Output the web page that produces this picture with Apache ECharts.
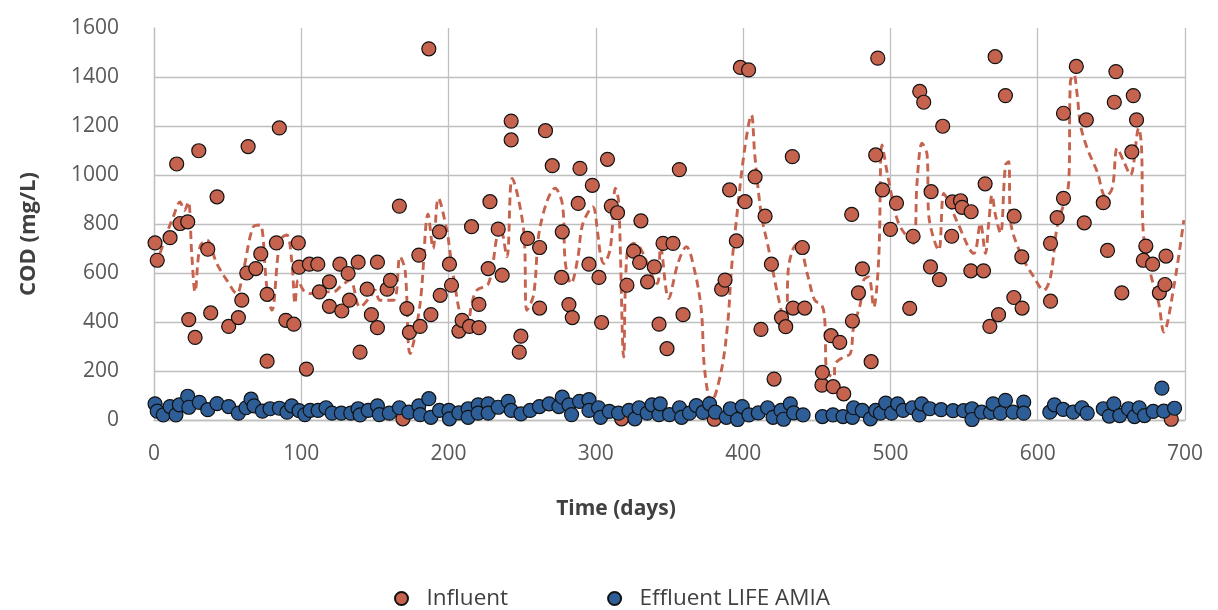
<!DOCTYPE html>
<html><head><meta charset="utf-8">
<script src="https://cdn.jsdelivr.net/npm/echarts@6/dist/echarts.min.js"></script>
<style>html,body{margin:0;padding:0;background:#fff}#c{width:1218px;height:610px}</style>
</head><body><div id="c"></div>
<script>
// Influent COD (day, mg/L)
const influentDays = [0.7,2.2,10.9,15.4,17.7,22.9,23.6,27.9,30.4,36.5,38.5,42.8,50.7,57.3,59.6,63.0,63.9,69.1,72.5,76.8,76.8,83.1,85.1,89.5,94.9,98.0,98.5,103.5,105.5,111.2,112.3,119.1,119.1,126.2,127.5,131.8,132.7,138.6,139.9,144.7,147.6,151.7,151.7,158.3,160.5,166.6,169.0,171.7,173.4,179.8,180.7,186.6,188.0,193.8,194.3,200.6,202.0,207.0,209.2,214.2,215.6,220.6,220.6,226.9,228.1,233.7,236.4,242.5,242.5,248.0,249.1,253.6,261.8,261.8,265.8,270.4,276.7,277.2,281.7,284.0,288.0,289.2,295.3,297.6,302.1,303.9,307.9,310.5,314.7,317.5,321.1,325.6,329.7,330.6,335.1,339.7,342.9,345.6,348.3,352.4,356.7,359.2,380.4,385.4,387.7,390.8,395.4,398.1,401.3,403.7,408.1,412.1,414.9,419.2,421.0,426.0,428.9,433.4,433.9,440.2,441.8,453.5,453.8,459.7,461.1,465.6,468.3,473.7,474.2,478.3,481.0,486.9,490.0,491.4,494.6,500.0,504.1,513.1,515.4,519.9,522.6,527.2,527.6,533.3,535.5,541.6,542.1,547.6,548.7,554.6,554.8,563.2,564.3,567.5,571.1,573.4,578.1,583.8,584.0,589.2,589.4,608.7,608.7,613.2,617.5,617.5,626.2,631.6,633.0,644.5,647.4,652.0,653.1,657.1,663.9,664.9,667.1,671.7,673.4,678.0,682.6,686.4,687.1,690.7];
const influentCOD = [723,652,744,1045,802,809,410,337,1099,697,437,911,382,418,489,600,1116,618,678,513,240,723,1192,407,391,723,624,208,636,636,523,564,464,636,445,598,489,644,277,534,430,644,377,534,570,873,5,455,358,673,382,1515,430,768,509,636,550,363,407,382,789,472,377,618,891,779,591,1220,1143,277,342,741,704,457,1181,1038,582,768,471,418,884,1027,636,958,582,398,1064,873,846,5,550,689,643,813,564,625,391,721,291,721,1022,430,3,534,571,939,731,1439,891,1429,992,370,832,636,167,418,381,1075,457,704,457,142,194,344,136,317,107,839,404,519,617,238,1082,1477,939,778,885,456,750,1341,1297,625,932,573,1199,750,890,895,868,609,850,609,964,382,1483,430,1324,500,832,666,457,485,721,826,1252,905,1443,805,1225,887,692,1297,1422,519,1094,1324,1225,652,710,636,519,553,669,3];

// Effluent LIFE AMIA COD (day, mg/L)
const effluentDays = [0.7,2.2,6.3,10.9,14.9,17.2,22.9,23.6,30.8,36.5,42.8,50.7,57.3,62.5,65.9,67.9,73.6,78.8,85.1,90.3,93.5,98.5,102.4,106.0,111.4,116.8,120.9,127.2,133.6,138.6,139.9,145.4,151.7,153.0,159.8,166.6,173.0,179.8,180.7,186.6,188.0,193.8,200.2,200.6,207.0,213.3,213.3,220.1,220.1,226.9,226.9,233.7,240.5,242.5,249.1,255.4,261.7,268.3,274.9,277.2,281.7,283.5,288.9,295.3,295.3,301.8,303.2,309.1,315.4,322.5,326.5,329.3,334.9,338.1,342.8,343.7,350.0,356.8,358.2,363.6,368.2,372.7,377.2,381.1,388.6,391.3,396.2,399.4,403.9,410.3,416.6,420.3,425.7,427.5,432.0,434.3,440.7,453.8,461.0,467.8,474.2,475.0,480.9,486.4,490.0,493.2,496.8,500.8,504.9,508.6,514.9,519.5,521.2,526.7,534.4,542.5,549.7,555.4,555.4,561.9,567.9,569.7,574.7,578.1,583.3,590.5,590.5,608.2,611.4,617.3,624.1,630.0,633.6,644.5,648.6,651.7,655.7,661.6,665.7,668.9,672.5,678.4,684.3,685.6,692.9];
const effluentCOD = [66,36,21,55,21,62,97,52,72,42,67,55,28,50,85,58,36,46,48,32,58,38,22,39,39,50,28,28,28,46,21,39,58,22,28,50,32,58,22,87,11,39,39,5,29,46,11,62,28,66,28,52,76,39,25,39,55,66,55,93,62,22,76,83,39,50,11,35,28,39,5,50,28,62,22,66,22,50,11,28,59,31,66,32,11,46,2,55,21,29,50,11,39,3,66,29,21,14,21,14,11,50,39,5,39,28,69,28,66,39,50,21,66,46,42,38,38,46,2,32,31,66,28,80,32,73,28,32,62,43,32,50,28,46,16,66,18,46,14,50,18,35,130,36,48];

// Dashed trend (moving average of influent)
const trendDays = [4.1,8.6,13.1,17.7,20.6,23.3,25.6,27.9,31.2,35.8,42.6,49.4,56.2,60.7,67.5,72.0,76.6,80.0,85.6,90.1,93.5,95.8,97.8,101.4,106.0,112.8,121.8,127.5,133.1,139.9,146.7,150.1,153.5,162.6,167.1,170.5,173.9,180.7,186.1,189.5,193.1,198.8,201.1,204.5,207.9,212.4,215.8,219.2,227.1,232.8,235.0,239.6,243.2,250.9,253.2,257.7,262.2,272.4,277.3,279.3,283.2,287.7,291.1,297.9,301.3,303.0,305.3,309.8,313.3,315.5,318.9,321.2,325.7,330.3,341.6,343.9,349.4,355.7,361.4,367.0,371.6,373.9,378.4,385.2,389.7,392.0,395.4,401.1,405.6,407.9,412.4,417.0,423.8,429.4,430.6,434.0,437.3,444.1,448.6,453.5,455.5,456.5,461.5,462.6,468.3,472.8,475.0,479.6,481.8,485.2,488.6,492.0,494.3,497.7,502.2,505.6,511.3,515.8,518.1,521.5,524.9,526.0,532.8,536.2,539.6,545.3,556.6,561.1,564.5,566.7,569.0,571.3,574.7,578.1,580.3,581.5,588.3,597.3,604.1,608.7,613.2,621.1,622.2,624.5,626.8,629.0,633.6,640.4,646.1,650.6,654.0,658.5,663.0,668.6,670.5,671.5,676.6,682.2,685.6,692.4,699.2];
const trendCOD = [680,760,830,890,855,890,680,523,707,734,639,571,516,611,789,796,543,448,734,755,652,475,571,530,516,523,523,550,571,461,502,530,489,489,666,611,271,476,840,700,905,775,680,543,434,380,476,530,557,748,790,666,986,780,448,510,790,946,880,640,557,660,800,870,760,680,639,700,946,891,257,680,721,700,557,707,496,639,707,611,448,202,73,202,407,611,816,1109,1245,1082,836,707,502,366,611,700,721,584,489,468,400,200,175,230,257,271,380,475,571,584,461,652,1123,1013,877,802,748,721,973,1130,1082,836,693,925,891,809,680,802,680,802,918,836,762,1041,1054,816,680,584,530,584,789,973,1382,1409,1327,1205,1109,1013,911,946,1109,1054,1000,1191,1109,782,598,475,359,543,816];

const xTicks = [0,100,200,300,400,500,600,700];
const yTicks = [0,200,400,600,800,1000,1200,1400,1600];

const zip = (a,b) => a.map((v,i) => [v, b[i]]);
const FONT = '"Open Sans", "Noto Sans", sans-serif';
const chart = echarts.init(document.getElementById('c'), null, {renderer:'canvas'});
chart.setOption({
  animation:false,
  textStyle:{fontFamily:FONT},
  grid:{left:154,right:33,top:28,bottom:190,containLabel:false},
  legend:{
    data:['Influent','Effluent LIFE AMIA'],
    top:582, left:389,
    icon:'circle', itemWidth:40, itemHeight:13, itemGap:99,
    textStyle:{fontFamily:FONT,fontSize:22.5,fontWeight:400,color:'#404040'}
  },
  xAxis:{
    type:'value', min:xTicks[0], max:xTicks[xTicks.length-1], interval:100,
    name:'Time (days)', nameLocation:'middle', nameGap:79,
    nameTextStyle:{fontFamily:FONT,fontSize:21,fontWeight:'bold',color:'#404040',padding:[0,107,0,0]},
    axisLine:{show:true,lineStyle:{color:'#bfbfbf',width:1.3}},
    axisTick:{show:false},
    axisLabel:{fontFamily:FONT,fontSize:21,fontWeight:400,color:'#595959',margin:24},
    splitLine:{show:true,lineStyle:{color:'#bfbfbf',width:1.3}}
  },
  yAxis:{
    type:'value', min:yTicks[0], max:yTicks[yTicks.length-1], interval:200,
    name:'COD (mg/L)', nameLocation:'middle', nameGap:114, nameRotate:90,
    nameTextStyle:{fontFamily:FONT,fontSize:22,fontWeight:'bold',color:'#404040',padding:[0,20,0,0]},
    axisLine:{show:true,lineStyle:{color:'#bfbfbf',width:1.3}},
    axisTick:{show:false},
    axisLabel:{fontFamily:FONT,fontSize:21,fontWeight:400,color:'#595959',margin:35,formatter:v=>String(v)},
    splitLine:{show:true,showMaxLine:false,lineStyle:{color:'#bfbfbf',width:1.3}}
  },
  series:[
    {
      name:'Trend', type:'line', data:zip(trendDays,trendCOD),
      showSymbol:false, smooth:0.35, z:1,
      lineStyle:{color:'#c5634e',width:2.9,type:[8,5]}
    },
    {
      name:'Influent', type:'scatter', data:zip(influentDays,influentCOD),
      symbolSize:14, z:2,
      itemStyle:{color:'#c5634e',borderColor:'#111',borderWidth:1.2,opacity:1}
    },
    {
      name:'Effluent LIFE AMIA', type:'scatter', data:zip(effluentDays,effluentCOD),
      symbolSize:14, z:3,
      itemStyle:{color:'#2e5e98',borderColor:'#111',borderWidth:1.2,opacity:1}
    }
  ]
});
</script></body></html>
